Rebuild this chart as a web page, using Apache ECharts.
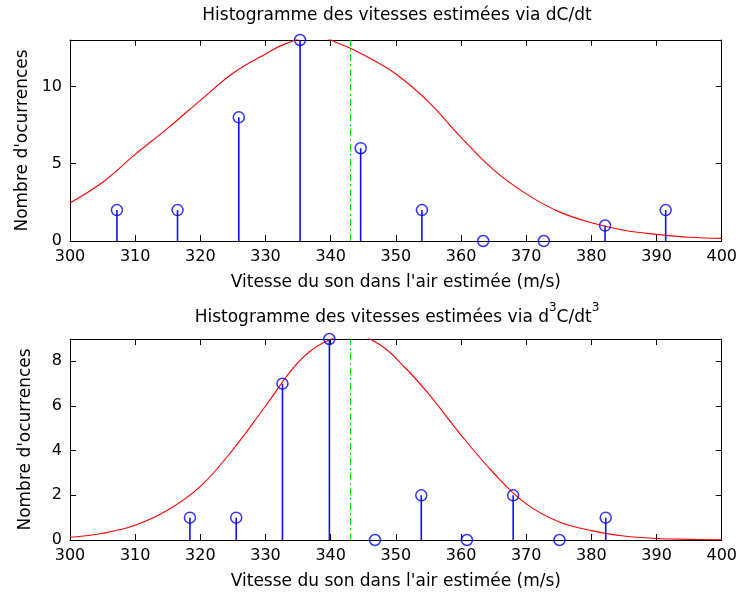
<!DOCTYPE html>
<html>
<head>
<meta charset="utf-8">
<script src="https://cdn.jsdelivr.net/npm/echarts@6/dist/echarts.min.js"></script>
<style>html,body{margin:0;padding:0;background:#fff;}#c{width:740px;height:597px;}</style>
</head>
<body>
<div id="c"></div>
<script>
// ---- Data ----
const xTicksMin = 300, xTicksMax = 400, xTickStep = 10;
const refSpeed = 343;

// Top histogram (dC/dt)
const topBins   = [307.2, 316.5, 325.9, 335.3, 344.6, 354.0, 363.4, 372.7, 382.1, 391.4];
const topCounts = [2, 2, 8, 13, 6, 2, 0, 0, 1, 2];
const topCurveX = [300,305,310,315,320,325,330,333,337.5,342,345,350,355,360,365,370,375,380,385,390,395,400];
const topCurveY = [2.46,3.8,5.6,7.3,9.1,10.85,12.1,12.75,13.25,12.65,12.05,10.8,9.0,6.7,4.6,3.05,1.9,1.18,0.7,0.43,0.24,0.17];
const topYMax = 13, topYStep = 5;

// Bottom histogram (d3C/dt3)
const botBins   = [318.4, 325.5, 332.6, 339.8, 346.8, 353.9, 360.9, 368.0, 375.1, 382.2];
const botCounts = [1, 1, 7, 9, 0, 2, 0, 2, 0, 1];
const botCurveX = [300,305,310,315,320,325,330,335,339,343.3,347.5,351.5,355,360,365,370,375,380,385,390,395,400];
const botCurveY = [0.12,0.30,0.66,1.34,2.4,4.05,6.0,7.95,8.85,9.2,8.75,7.69,6.55,4.7,3.0,1.62,0.82,0.42,0.18,0.07,0.03,0.01];
const botYMax = 9, botYStep = 2;

const titleTop = 'Histogramme des vitesses estimées via dC/dt';
const titleBotParts = ['Histogramme des vitesses estimées via d', '3', 'C/dt', '3'];
const xLabel = "Vitesse du son dans l'air estimée (m/s)";
const yLabel = "Nombre d'ocurrences";

// ---- Chart ----
const FONT = 'DejaVu Sans';
const chart = echarts.init(document.getElementById('c'), null, {renderer: 'canvas'});
const pairs = (xs, ys) => xs.map((x, i) => [x, ys[i]]);

function xAxes(gi) {
  const base = {
    gridIndex: gi, type: 'value', min: xTicksMin, max: xTicksMax, interval: xTickStep,
    axisLine: {onZero: false, lineStyle: {color: '#000', width: 1}},
    axisTick: {inside: true, length: 6, lineStyle: {color: '#000'}},
    splitLine: {show: false}
  };
  return [
    Object.assign({}, base, {
      position: 'bottom',
      axisLabel: {color: '#000', fontSize: 16, fontFamily: FONT, margin: 8},
      name: xLabel, nameLocation: 'middle', nameGap: 33,
      nameTextStyle: {color: '#000', fontSize: 17, fontFamily: FONT}
    }),
    Object.assign({}, base, {position: 'top', axisLabel: {show: false}})
  ];
}
function yAxes(gi, max, step) {
  const base = {
    gridIndex: gi, type: 'value', min: 0, max: max, interval: step,
    axisLine: {onZero: false, lineStyle: {color: '#000', width: 1}},
    axisTick: {inside: true, length: 6, lineStyle: {color: '#000'}},
    splitLine: {show: false}
  };
  return [
    Object.assign({}, base, {
      position: 'left',
      axisLabel: {color: '#000', fontSize: 16, fontFamily: FONT, margin: 8, showMaxLabel: false,
        formatter: v => (v % step === 0 ? String(v) : '')},
      name: yLabel, nameLocation: 'middle', nameGap: 36,
      nameTextStyle: {color: '#000', fontSize: 17, fontFamily: FONT}
    }),
    Object.assign({}, base, {position: 'right', axisLabel: {show: false}})
  ];
}

function seriesFor(xi, yi, bins, counts, cx, cy) {
  return [
    {
      type: 'line', xAxisIndex: xi, yAxisIndex: yi, data: pairs(cx, cy),
      smooth: 0.4, showSymbol: false, symbol: 'none', clip: true,
      lineStyle: {color: '#ff0000', width: 1.1}, silent: true, z: 2,
      markLine: {
        silent: true, symbol: 'none', label: {show: false},
        lineStyle: {color: '#00e000', width: 1, type: [7, 3, 2, 3]},
        data: [{xAxis: refSpeed}]
      }
    },
    {
      type: 'bar', xAxisIndex: xi, yAxisIndex: yi, data: pairs(bins, counts),
      barWidth: 1.6, itemStyle: {color: '#1010ff'}, silent: true, z: 3
    },
    {
      type: 'scatter', xAxisIndex: xi, yAxisIndex: yi, data: pairs(bins, counts),
      symbol: 'circle', symbolSize: 11, clip: false,
      itemStyle: {color: 'rgba(0,0,0,0)', borderColor: '#0000ff', borderWidth: 1.5},
      silent: true, z: 4
    }
  ];
}

chart.setOption({
  animation: false,
  backgroundColor: '#fff',
  title: [
    {text: titleTop, left: 397, top: 7, textAlign: 'center', padding: 0,
     textStyle: {color: '#000', fontSize: 17, fontWeight: 'normal', fontFamily: FONT}},
    {text: '{n|' + titleBotParts[0] + '}{s|' + titleBotParts[1] + '}{n|' + titleBotParts[2] + '}{s|' + titleBotParts[3] + '}',
     left: 397, top: 302, textAlign: 'center', padding: 0,
     textStyle: {color: '#000', fontSize: 17, fontWeight: 'normal', fontFamily: FONT,
       rich: {
         n: {color: '#000', fontSize: 17, fontFamily: FONT, verticalAlign: 'bottom', lineHeight: 24},
         s: {color: '#000', fontSize: 12, fontFamily: FONT, verticalAlign: 'top', lineHeight: 13}
       }}}
  ],
  grid: [
    {left: 70, right: 16, top: 40, bottom: 597 - 241},
    {left: 70, right: 16, top: 339, bottom: 597 - 540}
  ],
  xAxis: xAxes(0).concat(xAxes(1)),
  yAxis: yAxes(0, topYMax, topYStep).concat(yAxes(1, botYMax, botYStep)),
  series: seriesFor(0, 0, topBins, topCounts, topCurveX, topCurveY)
    .concat(seriesFor(2, 2, botBins, botCounts, botCurveX, botCurveY))
});
</script>
</body>
</html>
